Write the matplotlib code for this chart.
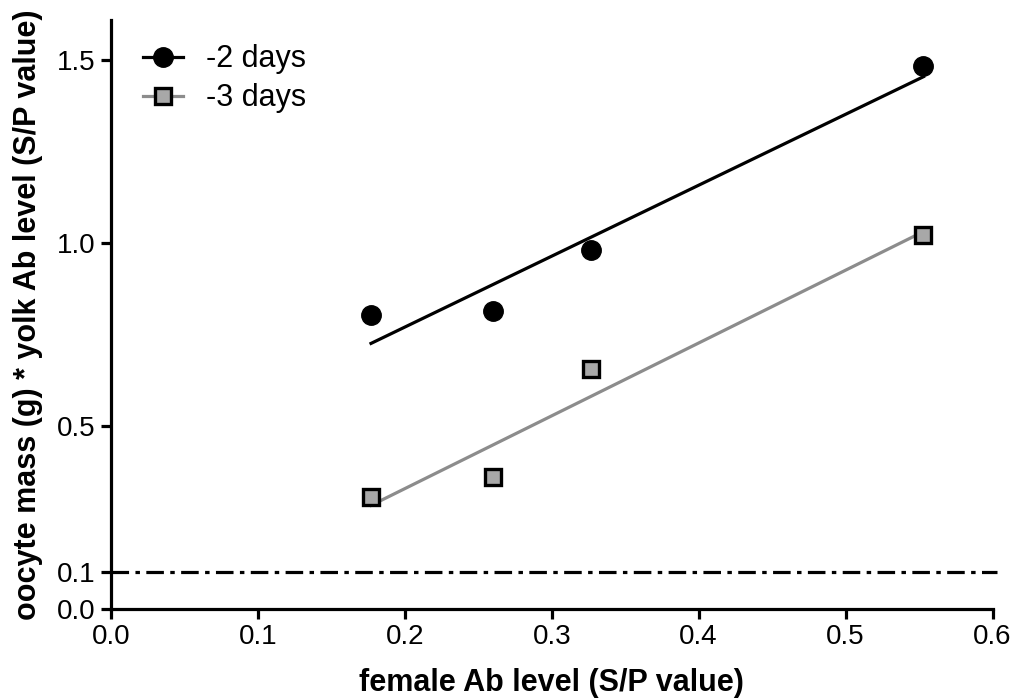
import matplotlib
matplotlib.use('Agg')
import matplotlib.pyplot as plt
import numpy as np

plt.rcParams['font.family'] = ['Liberation Sans', 'DejaVu Sans']

# data
female_ab = [0.177, 0.260, 0.327, 0.553]
days2_vals = [0.804, 0.815, 0.981, 1.486]
days3_vals = [0.307, 0.361, 0.655, 1.022]
threshold = 0.1

x_ticks = [0.0, 0.1, 0.2, 0.3, 0.4, 0.5, 0.6]
y_ticks = [0.0, 0.1, 0.5, 1.0, 1.5]

fig = plt.figure(figsize=(10.18, 6.99), dpi=100)
ax = fig.add_axes([0.109, 0.129, 0.866, 0.842])

x = np.array(female_ab)
xfit = np.array([x.min(), x.max()])

# -2 days
z2 = np.polyfit(x, days2_vals, 1)
ax.plot(xfit, np.polyval(z2, xfit), color='black', lw=2.3, zorder=2)
ax.plot(x, days2_vals, 'o', color='black', ms=14, zorder=3)

# -3 days
z3 = np.polyfit(x, days3_vals, 1)
ax.plot(xfit, np.polyval(z3, xfit), color='#8c8c8c', lw=2.3, zorder=2)
ax.plot(x, days3_vals, 's', mfc='#a8a8a8', mec='black', mew=2.4, ms=12, zorder=3)

# legend handles (line through marker)
h2, = ax.plot([], [], '-o', color='black', lw=2.3, ms=14)
h3, = ax.plot([], [], '-s', color='#8c8c8c', mfc='#a8a8a8', mec='black', mew=2.4, ms=12, lw=2.3)
ax.legend([h2, h3], ['-2 days', '-3 days'], loc='upper left', frameon=False,
          fontsize=22, handlelength=1.3, handletextpad=0.75, labelspacing=0.3,
          bbox_to_anchor=(0.005, 1.006))

# detection threshold
ax.axhline(threshold, xmin=0.0, xmax=1.005, color='black', lw=2.3,
           dashes=(5.5, 2.0, 1.4, 2.0), clip_on=False)

ax.set_xlim(0, 0.6)
ax.set_ylim(0, 1.61)
ax.set_xticks(x_ticks)
ax.set_xticklabels([f'{t:.1f}' for t in x_ticks])
ax.set_yticks(y_ticks)
ax.set_yticklabels([f'{t:.1f}' for t in y_ticks])

for s in ['top', 'right']:
    ax.spines[s].set_visible(False)
for s in ['left', 'bottom']:
    ax.spines[s].set_linewidth(2.3)
ax.tick_params(width=2.3, length=7, labelsize=20, direction='out', pad=4)

ax.set_xlabel('female Ab level (S/P value)', fontsize=22, fontweight='bold', labelpad=13)
ax.set_ylabel('oocyte mass (g) * yolk Ab level (S/P value)', fontsize=22,
              fontweight='bold', labelpad=10)

fig.savefig('out.png', dpi=100)
